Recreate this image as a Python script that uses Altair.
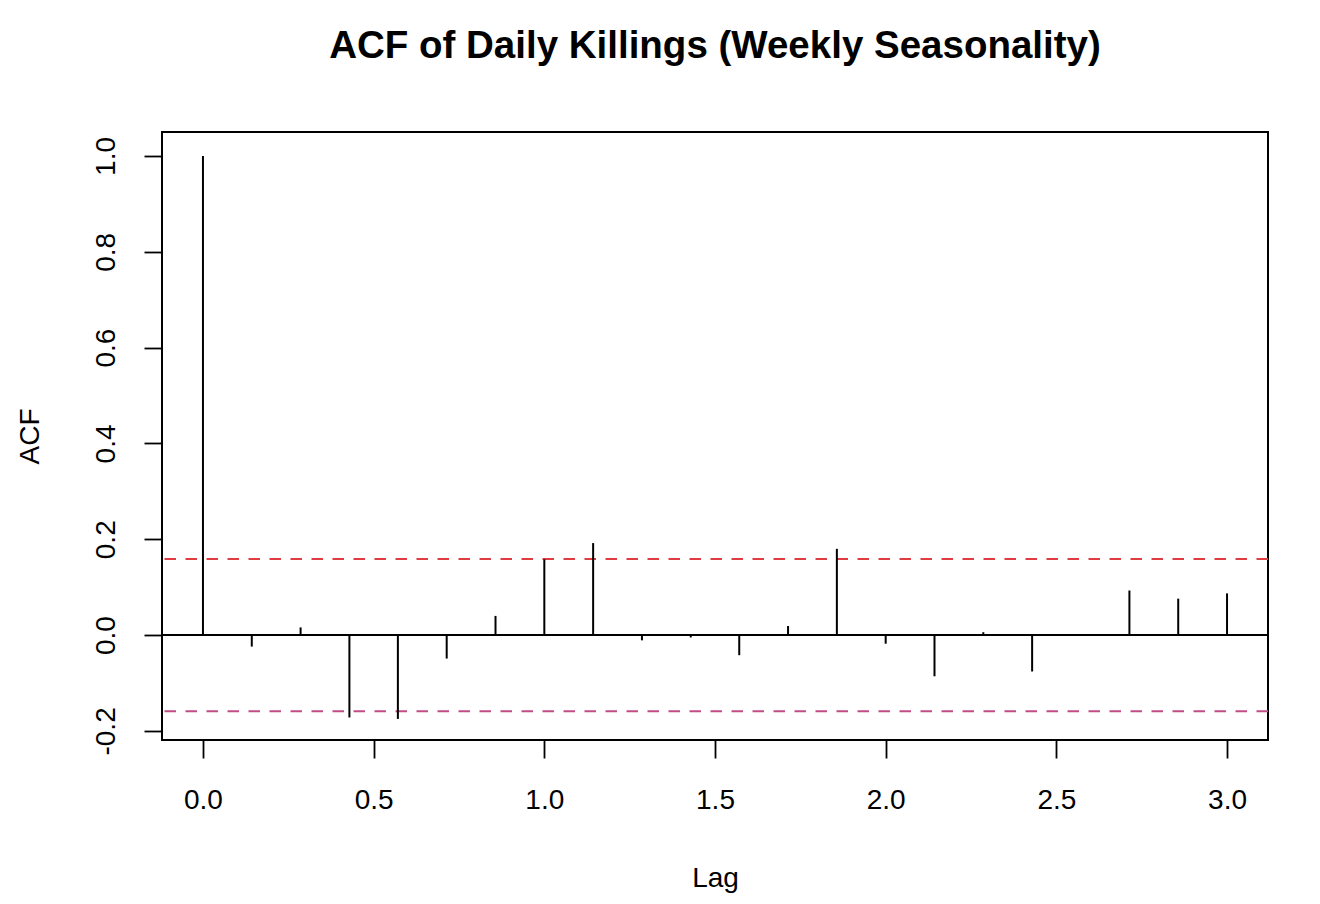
import altair as alt
import pandas as pd

# Lags (in weeks) and autocorrelation values
lags = [0.000, 0.143, 0.286, 0.429, 0.571, 0.714, 0.857, 1.000, 1.143, 1.286, 1.429,
        1.571, 1.714, 1.857, 2.000, 2.143, 2.286, 2.429, 2.571, 2.714, 2.857, 3.000]
acf_vals = [1.000, -0.024, 0.016, -0.172, -0.175, -0.049, 0.040, 0.158, 0.192, -0.011, -0.005,
            -0.042, 0.019, 0.180, -0.018, -0.086, 0.006, -0.076, -0.001, 0.093, 0.076, 0.087]
ci_upper = [0.159]
ci_lower = [-0.159]
x_ticks = [0.0, 0.5, 1.0, 1.5, 2.0, 2.5, 3.0]
y_ticks = [-0.2, 0.0, 0.2, 0.4, 0.6, 0.8, 1.0]

df = pd.DataFrame({"lag": lags, "acf": acf_vals})
df_up = pd.DataFrame({"ci": ci_upper})
df_lo = pd.DataFrame({"ci": ci_lower})
df_zero = pd.DataFrame({"z": [0.0]})

FONT = "Liberation Sans"
LBL = "datum.value < 0 ? '-' + format(-datum.value, '.1f') : format(datum.value, '.1f')"

xscale = alt.Scale(domain=[-0.12, 3.12], nice=False, zero=False)
yscale = alt.Scale(domain=[-0.219, 1.05], nice=False, zero=False)

xaxis = alt.Axis(values=x_ticks, labelExpr=LBL, title="Lag", grid=False, domain=False,
                 tickSize=18, tickWidth=1.8, tickColor="black",
                 labelFont=FONT, labelFontSize=28, labelColor="black",
                 labelPadding=28, labelBaseline="top", labelFlush=False,
                 titleFont=FONT, titleFontSize=28, titleFontWeight="normal", titleColor="black",
                 titleBaseline="middle", titleY=138, titleX=553)
yaxis = alt.Axis(values=y_ticks, labelExpr=LBL, title="ACF", grid=False, domain=False,
                 tickSize=18, tickWidth=1.8, tickColor="black",
                 labelFont=FONT, labelFontSize=28, labelColor="black",
                 labelAngle=-90, labelAlign="center", labelBaseline="alphabetic",
                 labelPadding=30, labelFlush=False,
                 titleFont=FONT, titleFontSize=28, titleFontWeight="normal", titleColor="black",
                 titleAngle=-90, titleBaseline="middle", titleX=-132, titleY=304)

spikes = alt.Chart(df).mark_rule(color="black", strokeWidth=2).encode(
    x=alt.X("lag:Q", scale=xscale, axis=xaxis),
    y=alt.Y("acf:Q", scale=yscale, axis=yaxis),
    y2=alt.datum(0),
)

zero = alt.Chart(df_zero).mark_rule(color="black", strokeWidth=2).encode(
    y=alt.Y("z:Q", scale=yscale)
)

up = alt.Chart(df_up).mark_rule(color="#DF3D42", strokeWidth=2, strokeDash=[11.5, 9.5]).encode(
    y=alt.Y("ci:Q", scale=yscale)
)
lo = alt.Chart(df_lo).mark_rule(color="#C24C86", strokeWidth=2, strokeDash=[11.5, 9.5]).encode(
    y=alt.Y("ci:Q", scale=yscale)
)

chart = alt.layer(zero, up, lo, spikes).properties(
    width=1106,
    height=608,
    background="white",
    title=alt.TitleParams(
        "ACF of Daily Killings (Weekly Seasonality)",
        font=FONT, fontSize=38.5, fontWeight="bold", color="black",
        anchor="middle", baseline="alphabetic", offset=36,
    ),
    autosize=alt.AutoSizeParams(type="none"),
    padding={"left": 154, "top": 124, "right": 44, "bottom": 160},
).configure_view(stroke="black", strokeWidth=2)

chart.save("out.html", embed_options={"renderer": "svg", "actions": False})
